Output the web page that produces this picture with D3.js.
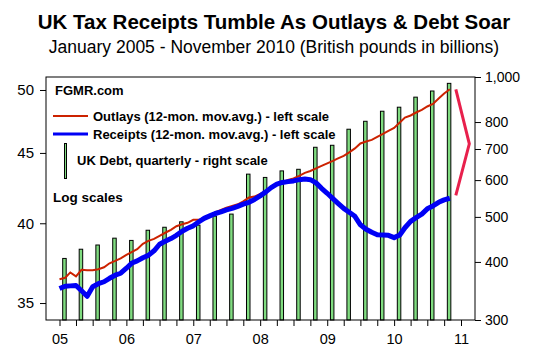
<!DOCTYPE html>
<html>
<head>
<meta charset="utf-8">
<script src="https://cdn.jsdelivr.net/npm/d3@7"></script>
<style>
  body { margin: 0; background: #fff; }
  svg { display: block; font-family: "Liberation Sans", Arial, sans-serif; }
</style>
</head>
<body>
<div id="chart"></div>
<script>
// --------------------------------------
//  Data (monthly 12-mon. moving averages, quarterly debt)
// --------------------------------------

const startYear = 2005;

const outlays = [
  36.42, 36.51, 36.84, 36.60, 37.00, 36.98, 36.98, 37.04, 37.16, 37.41, 37.56, 37.72,
  37.94, 38.13, 38.30, 38.65, 38.84, 38.97, 39.17, 39.37, 39.56, 39.80, 39.93, 40.03,
  40.23, 40.23, 40.37, 40.53, 40.74, 40.91, 41.05, 41.18, 41.29, 41.49, 41.77, 41.83,
  42.02, 42.20, 42.41, 42.65, 42.83, 43.01, 43.12, 43.30, 43.52, 43.66, 43.85, 44.03,
  44.22, 44.40, 44.59, 44.78, 45.04, 45.34, 45.72, 45.87, 45.99, 46.22, 46.45, 46.69,
  46.92, 47.35, 47.75, 47.91, 48.15, 48.36, 48.64, 48.84, 49.30, 49.71, 50.06
];

const receipts = [
  35.86, 36.00, 36.02, 36.04, 35.73, 35.40, 35.97, 36.15, 36.27, 36.48, 36.67, 36.79,
  37.10, 37.43, 37.56, 37.76, 37.91, 38.20, 38.62, 38.81, 38.99, 39.20, 39.47, 39.67,
  39.83, 40.10, 40.33, 40.50, 40.66, 40.77, 40.91, 41.01, 41.15, 41.30, 41.43, 41.63,
  41.88, 42.16, 42.46, 42.71, 42.83, 42.89, 42.94, 43.03, 43.07, 43.03, 42.80, 42.41,
  42.06, 41.69, 41.36, 41.01, 40.74, 40.47, 39.90, 39.60, 39.40, 39.24, 39.22, 39.20,
  39.05, 39.22, 39.70, 40.13, 40.38, 40.62, 40.98, 41.18, 41.43, 41.60, 41.71
];

const debt = [
  407, 426, 435, 450, 445, 468, 475, 488, 480, 502, 507, 618,
  608, 628, 633, 706, 713, 772, 803, 844, 861, 905, 933, 969
];

const leftTicks = [35, 40, 45, 50];
const rightTicks = [300, 400, 500, 600, 700, 800, 1000];

const legendItems = [
  {label: "Outlays (12-mon. mov.avg.) - left scale", kind: "outlays"},
  {label: "Receipts (12-mon. mov.avg.) - left scale", kind: "receipts"},
  {label: "UK Debt, quarterly - right scale", kind: "debt"}
];

// --------------------------------------
//  Canvas
// --------------------------------------

const width = 548;
const height = 360;
const plot = {left: 46, right: 475, top: 77, bottom: 320};

const colors = {outlays: "#cc2200", receipts: "#0000f5", debt: "#80dc80", bracket: "#e8204c"};

const svg = d3.select("#chart")
  .append("svg")
    .attr("width", width)
    .attr("height", height)
    .attr("viewBox", `0 0 ${width} ${height}`);

// --------------------------------------
//  Scales
// --------------------------------------

const month = (m, day = 1) => new Date(startYear, m, day);

const x = d3.scaleTime()
  .domain([new Date(2005, 0, 1), new Date(2011, 0, 1)])
  .range([59.5, 461]);

const yLeft = d3.scaleLog()
  .domain([34.02, 51.1])
  .range([plot.bottom, plot.top]);

const yRight = d3.scaleLog()
  .domain([300, 1000])
  .range([plot.bottom, plot.top]);

// --------------------------------------
//  Titles
// --------------------------------------

svg.append("text")
  .attr("x", width / 2)
  .attr("y", 29)
  .attr("text-anchor", "middle")
  .attr("font-size", 20.5)
  .attr("font-weight", "bold")
  .text("UK Tax Receipts Tumble As Outlays & Debt Soar");

svg.append("text")
  .attr("x", width / 2)
  .attr("y", 53)
  .attr("text-anchor", "middle")
  .attr("font-size", 17.5)
  .text("January 2005 - November 2010 (British pounds in billions)");

// --------------------------------------
//  Bars (debt, right scale)
// --------------------------------------

const barW = 3.5;

svg.append("g")
  .selectAll("rect")
  .data(debt)
  .join("rect")
    .attr("x", (d, i) => x(month(i * 3, 28)) - barW / 2)
    .attr("y", d => yRight(d))
    .attr("width", barW)
    .attr("height", d => plot.bottom - yRight(d))
    .attr("fill", colors.debt)
    .attr("stroke", "#000")
    .attr("stroke-width", 1);

// --------------------------------------
//  Lines (left scale)
// --------------------------------------

const line = d3.line()
  .x((d, i) => x(month(i)))
  .y(d => yLeft(d));

svg.append("path")
  .attr("d", line(outlays))
  .attr("fill", "none")
  .attr("stroke", colors.outlays)
  .attr("stroke-width", 2);

svg.append("path")
  .attr("d", line(receipts))
  .attr("fill", "none")
  .attr("stroke", colors.receipts)
  .attr("stroke-width", 5)
  .attr("stroke-linejoin", "round");

// bracket between last outlay and last receipt value
const lastM = outlays.length - 1;
const bx = x(month(lastM));
const topV = outlays[lastM];
const botV = receipts[lastM];
const midV = Math.sqrt(topV * botV);

svg.append("path")
  .attr("d", d3.line()([
    [bx + 6, yLeft(topV)],
    [bx + 19.5, yLeft(midV)],
    [bx + 6, yLeft(botV) - 3]
  ]))
  .attr("fill", "none")
  .attr("stroke", colors.bracket)
  .attr("stroke-width", 3);

// --------------------------------------
//  Frame and axes
// --------------------------------------

svg.append("rect")
  .attr("x", plot.left)
  .attr("y", plot.top)
  .attr("width", plot.right - plot.left)
  .attr("height", plot.bottom - plot.top)
  .attr("fill", "none")
  .attr("stroke", "#000")
  .attr("stroke-width", 1);

const quarters = d3.range(0, 25).map(q => month(q * 3));

const xAxis = svg.append("g")
  .attr("transform", `translate(0, ${plot.bottom})`)
  .call(d3.axisBottom(x)
    .tickValues(quarters)
    .tickSize(6)
    .tickPadding(8)
    .tickFormat(d => d.getMonth() === 0 ? d3.timeFormat("%y")(d) : ""));

xAxis.select(".domain").remove();
xAxis.selectAll("text")
  .attr("font-size", 14.5)
  .attr("fill", "#000")
  .attr("font-family", "Liberation Sans, Arial, sans-serif");

const leftAxis = svg.append("g")
  .attr("transform", `translate(${plot.left}, 0)`)
  .call(d3.axisLeft(yLeft)
    .tickValues(leftTicks)
    .tickSize(6)
    .tickPadding(6)
    .tickFormat(d3.format("d")));

leftAxis.select(".domain").remove();
leftAxis.selectAll("text")
  .attr("font-size", 15)
  .attr("fill", "#000")
  .attr("font-family", "Liberation Sans, Arial, sans-serif");

const rightAxis = svg.append("g")
  .attr("transform", `translate(${plot.right}, 0)`)
  .call(d3.axisRight(yRight)
    .tickValues(rightTicks)
    .tickSize(6)
    .tickPadding(4)
    .tickFormat(d3.format(",")));

rightAxis.select(".domain").remove();
rightAxis.selectAll("text")
  .attr("font-size", 14)
  .attr("fill", "#000")
  .attr("font-family", "Liberation Sans, Arial, sans-serif");

// --------------------------------------
//  Legend and notes
// --------------------------------------

const legend = svg.append("g")
  .attr("font-size", 13)
  .attr("font-weight", "bold");

legend.append("text")
  .attr("x", 55)
  .attr("y", 95)
  .text("FGMR.com");

legend.selectAll("g.item")
  .data(legendItems)
  .join("g")
    .attr("class", "item")
    .each(function(d, i) {
      const g = d3.select(this);
      if (d.kind === "debt") {
        g.append("rect")
          .attr("x", 64.5)
          .attr("y", 143.5)
          .attr("width", 2)
          .attr("height", 35)
          .attr("fill", colors.debt)
          .attr("stroke", "#000")
          .attr("stroke-width", 1);
        g.append("text")
          .attr("x", 77)
          .attr("y", 165)
          .text(d.label);
      } else {
        const yy = 116 + i * 18;
        g.append("line")
          .attr("x1", 53)
          .attr("x2", 88)
          .attr("y1", yy)
          .attr("y2", yy)
          .attr("stroke", colors[d.kind])
          .attr("stroke-width", d.kind === "receipts" ? 3 : 2);
        g.append("text")
          .attr("x", 93)
          .attr("y", yy + 4.5)
          .text(d.label);
      }
    });

legend.append("text")
  .attr("x", 53)
  .attr("y", 202)
  .attr("font-size", 13.5)
  .text("Log scales");
</script>
</body>
</html>
